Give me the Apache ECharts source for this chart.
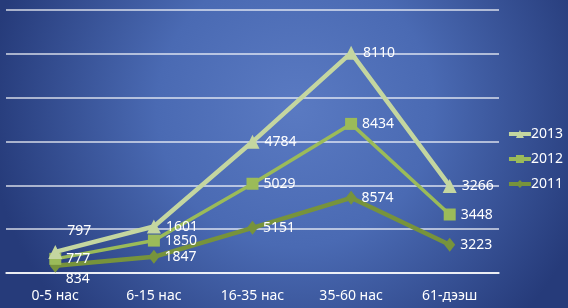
<!DOCTYPE html>
<html style="height: 100%">
<head>
    <meta charset="utf-8">
    <title>index</title>
    <style>
        body { margin: 0; }
        #container { width: 568px; height: 308px; }
    </style>
</head>
<body>
    <div id="container"></div>
</body>
<script src="https://cdn.jsdelivr.net/npm/echarts@6/dist/echarts.min.js"></script>
<script type="text/javascript">
    // data
    var categories = ['0-5 нас', '6-15 нас', '16-35 нас', '35-60 нас', '61-дээш'];
    var v2011 = [834, 1847, 5151, 8574, 3223];
    var v2012 = [777, 1850, 5029, 8434, 3448];
    var v2013 = [797, 1601, 4784, 8110, 3266];

    var font = 'Noto Sans';

    // first point labels sit a bit differently
    function mkData(arr, firstOffset) {
        return arr.map(function (v, i) {
            if (i === 0) return { value: v, label: { offset: firstOffset } };
            return v;
        });
    }

    function mkSeries(name, arr, color, symbol, size, width, firstOffset) {
        return {
            name: name,
            type: 'line',
            stack: 'total',
            data: mkData(arr, firstOffset),
            symbol: symbol,
            symbolSize: size,
            lineStyle: { color: color, width: width },
            itemStyle: { color: color },
            label: {
                show: true,
                position: 'right',
                distance: 5,
                color: '#fff',
                fontSize: 14,
                fontFamily: font
            }
        };
    }

    var dom = document.getElementById('container');
    var myChart = echarts.init(dom);

    var option = {
        animation: false,
        backgroundColor: new echarts.graphic.RadialGradient(0.52, 0.35, 1.0, [
            { offset: 0, color: '#5a7ac2' },
            { offset: 0.45, color: '#4a6ab3' },
            { offset: 1, color: '#263b7a' }
        ]),
        grid: { left: 6, right: 69, top: 10, bottom: 35 },
        legend: {
            orient: 'vertical',
            right: 0,
            top: 122,
            itemGap: 11,
            itemWidth: 22,
            itemHeight: 10,
            data: ['2013', '2012', '2011'],
            lineStyle: { width: 4 },
            textStyle: { color: '#fff', fontSize: 14, fontFamily: font, padding: [0, 0, 0, -5] }
        },
        xAxis: {
            type: 'category',
            data: categories,
            axisLine: { lineStyle: { color: '#fff', width: 1.5 } },
            axisTick: { lineStyle: { color: '#fff' }, length: 5 },
            axisLabel: { color: '#fff', fontSize: 14, fontFamily: font, margin: 16 }
        },
        yAxis: {
            type: 'value',
            min: 0,
            max: 30000,
            interval: 5000,
            axisLabel: { show: false },
            axisLine: { show: false },
            axisTick: { show: false },
            splitLine: { lineStyle: { color: 'rgba(255,255,255,0.8)', width: 1.5 } }
        },
        series: [
            mkSeries('2011', v2011, '#77933c', 'diamond', [11, 14], 4.5, [0, 13]),
            mkSeries('2012', v2012, '#9bbb59', 'rect', 12, 3.5, [0, 0]),
            mkSeries('2013', v2013, '#c4d6a0', 'triangle', 14, 4.5, [0, -21])
        ]
    };

    myChart.setOption(option, true);
</script>
</html>
